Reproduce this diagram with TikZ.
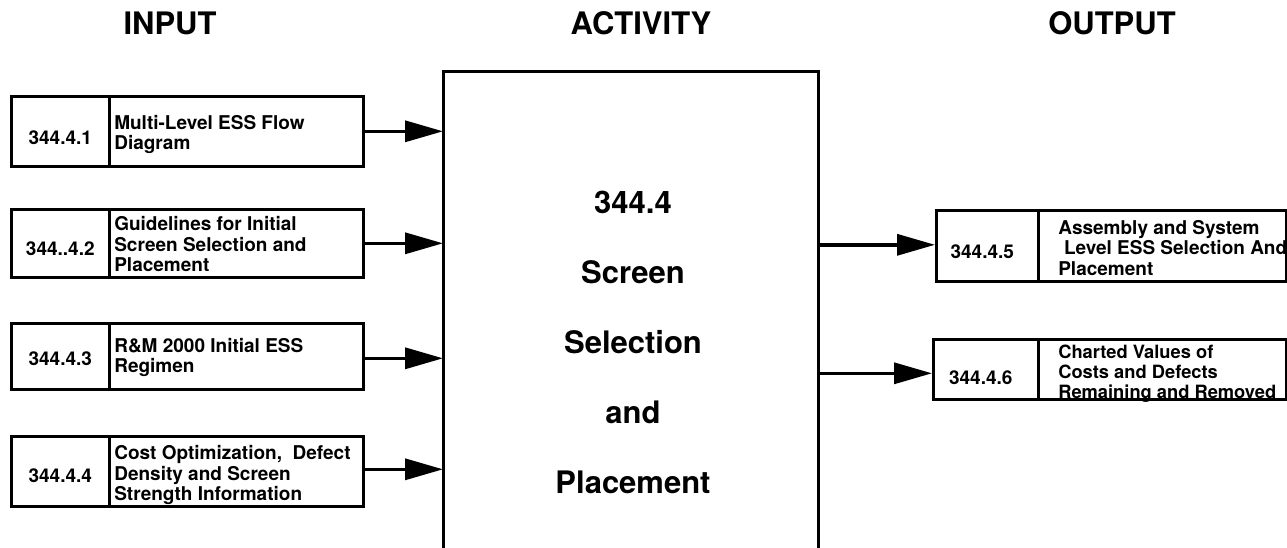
\documentclass[tikz,border=0pt]{standalone}
\usepackage{fontspec}
\setmainfont{TeX Gyre Heros}
\usetikzlibrary{arrows.meta}
\newcommand{\celltext}[3]{\raisebox{-#3}[\height][\depth]{\makebox[#1][l]{\begin{tabular}{@{}l@{}}#2\end{tabular}}}}
\newcommand{\lowtext}[2]{\raisebox{-#1}[\height][\depth]{#2}}
\begin{document}
\begin{tikzpicture}[x=1pt,y=-1pt,
  cell/.style={draw,line width=2.6pt,inner sep=0pt,anchor=north west,
    font=\fontsize{19}{20.5}\selectfont\bfseries},
  head/.style={font=\fontsize{31}{34}\selectfont\bfseries,anchor=base},
  arr/.style={line width=3.4pt,-{Triangle[length=38pt,width=21pt]}}]
\useasboundingbox (0,0) rectangle (1287,548);
% headings
\node[head] (hin) at (170,35) {INPUT};
\node[head] (hact) at (641,35) {ACTIVITY};
\node[head] (hout) at (1112,35) {OUTPUT};
% activity box
\node[minimum width=375pt,minimum height=476pt,inner sep=0pt,anchor=north west] (main) at (443,72) {};
\draw[line width=3pt] (main.south west) |- (main.north east) -- (main.south east);
\node[align=center,font=\fontsize{31}{70}\selectfont\bfseries] (mtext) at (633,342)
  {344.4\\Screen\\Selection\\and\\Placement};
% input boxes
\node[cell,minimum width=98pt,minimum height=70pt] (n1) at (10,95) {\lowtext{6pt}{344.4.1}};
\node[cell,minimum width=254pt,minimum height=70pt] (t1) at (108,95)
  {\celltext{244pt}{Multi-Level ESS Flow\\Diagram}{4pt}};
\node[cell,minimum width=98pt,minimum height=68pt] (n2) at (10,208) {\lowtext{5pt}{344..4.2}};
\node[cell,minimum width=254pt,minimum height=68pt] (t2) at (108,208)
  {\celltext{244pt}{Guidelines for Initial\\Screen Selection and\\Placement}{4pt}};
\node[cell,minimum width=98pt,minimum height=66pt] (n3) at (10,322) {\lowtext{2pt}{344.4.3}};
\node[cell,minimum width=254pt,minimum height=66pt] (t3) at (108,322)
  {\celltext{244pt}{R\&M 2000 Initial ESS\\Regimen}{2pt}};
\node[cell,minimum width=98pt,minimum height=70pt] (n4) at (10,435) {\lowtext{4pt}{344.4.4}};
\node[cell,minimum width=254pt,minimum height=70pt] (t4) at (108,435)
  {\celltext{244pt}{Cost Optimization,\ \ Defect\\Density and Screen\\Strength Information}{5pt}};
% output boxes
\node[cell,minimum width=102pt,minimum height=71pt] (n5) at (935,209)
  {\hspace*{-10pt}\lowtext{6pt}{344.4.5}};
\node[cell,minimum width=248pt,minimum height=71pt] (t5) at (1037,209)
  {\celltext{208pt}{Assembly and System\\\hspace*{0.3em}Level ESS Selection And\\Placement}{5pt}};
\node[cell,minimum width=105pt,minimum height=60pt] (n6) at (932,338)
  {\hspace*{-10pt}\lowtext{8pt}{344.4.6}};
\node[cell,minimum width=248pt,minimum height=60pt,font=\fontsize{18.3}{20}\selectfont\bfseries] (t6) at (1037,338)
  {\celltext{208pt}{Charted Values of\\Costs and Defects\\Remaining and Removed}{5.5pt}};
% connectors
\draw[arr] (t1.east) -- (t1.east -| main.west);
\draw[arr] (t2.east) -- (t2.east -| main.west);
\draw[arr] ([yshift=-2pt]t3.east) -- ([yshift=-2pt]t3.east -| main.west);
\draw[arr] ([yshift=2pt]t4.east) -- ([yshift=2pt]t4.east -| main.west);
\draw[arr] ([yshift=1pt]n5.west -| main.east) -- ([yshift=1pt]n5.west);
\draw[arr] ([yshift=-4pt]n6.west -| main.east) -- ([yshift=-4pt]n6.west);
\end{tikzpicture}
\end{document}
